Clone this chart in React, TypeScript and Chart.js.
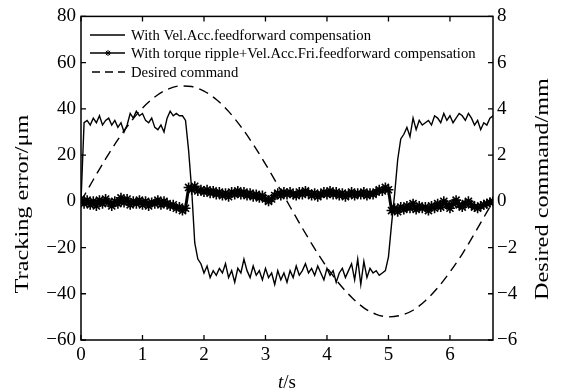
import React, { useEffect, useRef } from 'react';
import { Chart, registerables } from 'chart.js';
Chart.register(...registerables);

// sample time step of the tracking error records (s)
const T_STEP = 0.05;

// Tracking error with Vel.Acc. feedforward compensation (µm), one value per T_STEP
const errVelAcc = [
  0, 34, 35, 33, 36, 34, 37, 33, 35, 36,
  33, 35, 32, 34, 30, 33, 38, 36, 39, 37,
  38, 35, 34, 36, 32, 31, 33, 30, 36, 39,
  37, 38, 37, 37, 35, 22, 5, -18, -25, -27,
  -31, -28, -33, -30, -32, -29, -31, -27, -33, -30,
  -35, -29, -31, -25, -30, -33, -28, -32, -30, -34,
  -29, -33, -31, -36, -30, -34, -31, -35, -30, -33,
  -28, -32, -30, -27, -31, -29, -32, -28, -31, -34,
  -29, -32, -30, -35, -31, -29, -33, -30, -27, -34,
  -25, -36, -26, -33, -29, -31, -30, -32, -31, -30,
  -24, -10, 3, 18, 27, 29, 32, 28, 36, 31,
  35, 33, 34, 35, 33, 37, 36, 34, 38, 35,
  37, 34, 36, 38, 37, 35, 38, 36, 33, 35,
  31, 34, 33, 36, 37,
];

// Tracking error with torque ripple + Vel.Acc.Fri. feedforward compensation (µm)
const errRipple = [
  1, -1, 0.5, -1.5, 0, -2, 0.5, -1, 1, -0.5,
  -2, 0, -1, 1.5, -0.5, 1, -1.5, 0, -1, 0.5,
  -1.5, 0, -2, -0.5, -1, 0.5, -1.5, 0, -1, -2,
  -1.5, -3, -2.5, -4, -3, 6, 5, 6.5, 4.5, 5,
  4, 5, 3.5, 4.5, 3, 4, 2.5, 3.5, 2, 4,
  3, 4.5, 3, 4, 2.5, 3.5, 2, 3, 1.5, 2.5,
  1, 0, 1, 2.5, 3.5, 2.5, 4, 3, 4, 3,
  2.5, 4, 3, 4.5, 3.5, 2.5, 3.5, 2, 3, 4,
  3, 4.5, 3, 4, 2.5, 3.5, 2, 3, 4, 2.5,
  3.5, 3, 4, 2.5, 3.5, 3, 4, 5, 4.5, 6,
  5, -4, -3, -4.5, -2.5, -3.5, -2, -3, -1, -3.5,
  -2, -3, -2.5, -4, -2, -3, -1, -2.5, 0, -1.5,
  -3, -1, 0.5, -1.5, -2.5, -1, 0, -1.5, -2.5, -3,
  -2, -1.5, -1, -0.5, 0,
];

// Desired command (mm)
const cmdTime = [
  0, 0.2, 0.4, 0.6, 0.8, 1.0, 1.2, 1.4, 1.6, 1.8,
  2.0, 2.2, 2.4, 2.6, 2.8, 3.0, 3.2, 3.4, 3.6, 3.8,
  4.0, 4.2, 4.4, 4.6, 4.8, 5.0, 5.2, 5.4, 5.6, 5.8,
  6.0, 6.2, 6.4, 6.6, 6.7,
];
const cmdValue = [
  0, 0.932, 1.832, 2.667, 3.409, 4.032, 4.513, 4.836, 4.988, 4.965,
  4.77, 4.405, 3.89, 3.232, 2.466, 1.61, 0.701, -0.234, -1.161, -2.047,
  -2.858, -3.568, -4.152, -4.608, -4.888, -4.998, -4.932, -4.712, -4.298, -3.742,
  -3.059, -2.28, -1.389, -0.468, 0,
];

const legendLabels = [
  'With Vel.Acc.feedforward compensation',
  'With torque ripple+Vel.Acc.Fri.feedforward compensation',
  'Desired command',
];
const leftTitle = 'Tracking error/μm';
const rightTitle = 'Desired command/mm';

const SERIF = '"Liberation Serif", "Times New Roman", serif';
const minus = (v: number | string) => String(v).replace('-', '\u2212');

const framePlugin = {
  id: 'frameAndText',
  afterDatasetsDraw(chart: any) {
    const { ctx, chartArea: a, scales } = chart;
    ctx.save();
    ctx.strokeStyle = '#000';
    ctx.lineWidth = 1.5;
    ctx.strokeRect(a.left, a.top, a.right - a.left, a.bottom - a.top);
    const TL = 5;
    ctx.lineWidth = 1.3;
    ctx.beginPath();
    scales.x.ticks.forEach((t: any) => {
      const px = scales.x.getPixelForValue(t.value);
      ctx.moveTo(px, a.bottom); ctx.lineTo(px, a.bottom - TL);
      ctx.moveTo(px, a.top); ctx.lineTo(px, a.top + TL);
    });
    scales.y.ticks.forEach((t: any) => {
      const py = scales.y.getPixelForValue(t.value);
      ctx.moveTo(a.left, py); ctx.lineTo(a.left + TL, py);
    });
    scales.y2.ticks.forEach((t: any) => {
      const py = scales.y2.getPixelForValue(t.value);
      ctx.moveTo(a.right, py); ctx.lineTo(a.right - TL, py);
    });
    ctx.stroke();

    // legend
    const rows = [35, 53, 72];
    const x0 = 90, x1 = 125;
    ctx.lineWidth = 1.4;
    ctx.beginPath(); ctx.moveTo(x0, rows[0]); ctx.lineTo(x1, rows[0]); ctx.stroke();
    ctx.beginPath(); ctx.moveTo(x0, rows[1]); ctx.lineTo(x1, rows[1]); ctx.stroke();
    // star marker
    const sx = 108, sy = rows[1], r = 3;
    ctx.lineWidth = 1;
    ctx.beginPath();
    ctx.moveTo(sx - r, sy); ctx.lineTo(sx + r, sy);
    ctx.moveTo(sx, sy - r); ctx.lineTo(sx, sy + r);
    ctx.moveTo(sx - r * 0.7, sy - r * 0.7); ctx.lineTo(sx + r * 0.7, sy + r * 0.7);
    ctx.moveTo(sx - r * 0.7, sy + r * 0.7); ctx.lineTo(sx + r * 0.7, sy - r * 0.7);
    ctx.stroke();
    ctx.lineWidth = 1.4;
    ctx.setLineDash([8, 5]);
    ctx.beginPath(); ctx.moveTo(x0 + 2, rows[2]); ctx.lineTo(x1, rows[2]); ctx.stroke();
    ctx.setLineDash([]);
    ctx.fillStyle = '#000';
    ctx.font = `14.7px ${SERIF}`;
    ctx.textAlign = 'left';
    ctx.textBaseline = 'middle';
    legendLabels.forEach((s, i) => ctx.fillText(s, 131, rows[i] + 1));

    // axis titles
    ctx.font = `18px ${SERIF}`;
    ctx.textAlign = 'center';
    ctx.save();
    ctx.translate(23, 204);
    ctx.rotate(-Math.PI / 2);
    ctx.scale(1.35, 1);
    ctx.fillText(leftTitle, 0, 0);
    ctx.restore();
    ctx.save();
    ctx.translate(543, 189);
    ctx.rotate(-Math.PI / 2);
    ctx.scale(1.35, 1);
    ctx.fillText(rightTitle, 0, 0);
    ctx.restore();

    // x title "t/s" with italic t
    ctx.textAlign = 'left';
    ctx.textBaseline = 'alphabetic';
    ctx.font = `italic 19px ${SERIF}`;
    const wt = ctx.measureText('t').width;
    ctx.font = `19px ${SERIF}`;
    const ws = ctx.measureText('/s').width;
    const cx = (a.left + a.right) / 2;
    const start = cx - (wt + ws) / 2;
    ctx.font = `italic 19px ${SERIF}`;
    ctx.fillText('t', start, 388);
    ctx.font = `19px ${SERIF}`;
    ctx.fillText('/s', start + wt, 388);
    ctx.restore();
  },
};

export default function App() {
  const ref = useRef<HTMLCanvasElement | null>(null);
  useEffect(() => {
    document.body.style.margin = '0';
    const canvas = ref.current!;
    const tickFont = { family: SERIF, size: 19 };
    const chart = new Chart(canvas, {
      type: 'line',
      data: {
        datasets: [
          {
            label: legendLabels[0],
            data: errVelAcc.map((v, i) => ({ x: i * T_STEP, y: v })),
            borderColor: '#000',
            borderWidth: 1.4,
            pointRadius: 0,
            tension: 0,
            yAxisID: 'y',
          },
          {
            label: legendLabels[1],
            data: errRipple.map((v, i) => ({ x: i * T_STEP, y: v })),
            borderColor: '#000',
            backgroundColor: '#000',
            borderWidth: 3,
            pointStyle: 'star',
            pointRadius: 5,
            pointBorderWidth: 1.6,
            tension: 0,
            yAxisID: 'y',
          },
          {
            label: legendLabels[2],
            data: cmdValue.map((v, i) => ({ x: cmdTime[i], y: v })),
            borderColor: '#000',
            borderWidth: 1.4,
            borderDash: [10, 6],
            pointRadius: 0,
            cubicInterpolationMode: 'monotone',
            yAxisID: 'y2',
          },
        ],
      },
      options: {
        animation: false,
        responsive: false,
        maintainAspectRatio: false,
        layout: { padding: { top: 16, left: 0, right: 0, bottom: 0 } },
        plugins: { legend: { display: false }, tooltip: { enabled: false } },
        scales: {
          x: {
            type: 'linear',
            min: 0,
            max: 6.7,
            grid: { display: false, drawTicks: false },
            border: { display: false },
            ticks: { stepSize: 1, includeBounds: false, font: tickFont, color: '#000', padding: 4, maxRotation: 0, autoSkip: false },
            afterFit: (s: any) => { s.height = 51; },
          },
          y: {
            position: 'left',
            min: -60,
            max: 80,
            grid: { display: false, drawTicks: false },
            border: { display: false },
            ticks: { stepSize: 20, font: tickFont, color: '#000', padding: 5, callback: (v: any) => minus(v) },
            afterFit: (s: any) => { s.width = 81; },
          },
          y2: {
            position: 'right',
            min: -6,
            max: 8,
            grid: { display: false, drawTicks: false },
            border: { display: false },
            ticks: { stepSize: 2, font: tickFont, color: '#000', padding: 4, callback: (v: any) => minus(v) },
            afterFit: (s: any) => { s.width = 71; },
          },
        },
      },
      plugins: [framePlugin],
    } as any);
    return () => chart.destroy();
  }, []);
  return (
    <div style={{ position: 'absolute', left: 0, top: 0, width: 564, height: 391, background: '#fff' }}>
      <canvas ref={ref} width={564} height={391} />
    </div>
  );
}
